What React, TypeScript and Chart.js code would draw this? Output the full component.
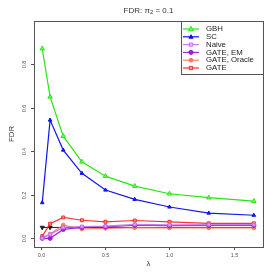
import React, { useEffect, useRef } from "react";
import { Chart, registerables } from "chart.js";

Chart.register(...registerables);

const lambdas = [0.012, 0.073, 0.175, 0.32, 0.503, 0.73, 1.0, 1.305, 1.655];
const gbh = [0.873, 0.651, 0.47, 0.352, 0.286, 0.24, 0.205, 0.187, 0.171];
const sc = [0.164, 0.544, 0.406, 0.299, 0.222, 0.179, 0.144, 0.116, 0.106];
const naive = [0.0, 0.018, 0.05, 0.054, 0.056, 0.064, 0.062, 0.063, 0.063];
const gateEM = [0.0, 0.0, 0.041, 0.05, 0.053, 0.06, 0.058, 0.059, 0.059];
const gateOracle = [0.002, 0.02, 0.061, 0.043, 0.046, 0.049, 0.048, 0.048, 0.048];
const gate = [0.01, 0.067, 0.096, 0.083, 0.076, 0.082, 0.076, 0.069, 0.069];
const nominal = [0.05, 0.05, 0.05, 0.05, 0.05, 0.05, 0.05, 0.05, 0.05];
const seriesNames = ["GBH", "SC", "Naive", "GATE, EM", "GATE, Oracle", "GATE"];
const xTicks = [0, 0.5, 1.0, 1.5];
const yTicks = [0, 0.2, 0.4, 0.6, 0.8];

const toPts = (ys: number[]) => ys.map((y, i) => ({ x: lambdas[i], y }));

export default function App() {
  const ref = useRef<HTMLCanvasElement>(null);
  useEffect(() => {
    document.body.style.margin = "0";
    const c = ref.current!;
    const styles = [
      { color: "rgba(40,230,20,1)", fill: "rgba(110,250,90,0.9)", ps: "triangle", r: 2.6, data: gbh },
      { color: "rgba(20,20,240,1)", fill: "rgba(20,20,240,1)", ps: "triangle", r: 2.1, data: sc },
      { color: "rgba(200,110,240,0.9)", fill: "rgba(230,180,250,0.8)", ps: "rect", r: 2.1, data: naive },
      { color: "rgba(150,20,220,0.9)", fill: "rgba(150,20,220,0.9)", ps: "circle", r: 2.1, data: gateEM },
      { color: "rgba(250,110,80,0.85)", fill: "rgba(250,110,80,0.85)", ps: "circle", r: 1.9, data: gateOracle },
      { color: "rgba(250,30,30,0.9)", fill: "rgba(255,150,150,0.8)", ps: "rect", r: 2.1, data: gate },
    ];
    const datasets: any[] = styles.map((s, i) => ({
      label: seriesNames[i],
      data: toPts(s.data),
      borderColor: s.color,
      backgroundColor: s.fill,
      pointBorderColor: s.color,
      pointBackgroundColor: s.fill,
      pointStyle: s.ps,
      pointRadius: s.r,
      pointBorderWidth: 1,
      borderWidth: 1.2,
      tension: 0,
    }));
    datasets.push({
      label: "nominal",
      data: toPts(nominal),
      borderColor: "#222",
      backgroundColor: "#222",
      pointStyle: "triangle",
      rotation: 180,
      pointRadius: nominal.map((_, i) => (i < 2 ? 2.4 : 0)),
      borderWidth: 1,
      tension: 0,
    });

    const deco = {
      id: "deco",
      afterDraw(chart: any) {
        const ctx = chart.ctx as CanvasRenderingContext2D;
        const a = chart.chartArea;
        const xs = chart.scales.x;
        const ys = chart.scales.y;
        ctx.save();
        ctx.strokeStyle = "#555";
        ctx.lineWidth = 1;
        ctx.strokeRect(Math.round(a.left) + 0.5, Math.round(a.top) + 0.5, Math.round(a.right - a.left), Math.round(a.bottom - a.top));
        ctx.fillStyle = "#555";
        ctx.font = "5.5px 'Liberation Sans', Arial, sans-serif";
        ctx.textAlign = "center";
        ctx.textBaseline = "middle";
        for (const t of xTicks) {
          const px = Math.round(xs.getPixelForValue(t)) + 0.5;
          ctx.beginPath();
          ctx.moveTo(px, a.bottom);
          ctx.lineTo(px, a.bottom + 3);
          ctx.stroke();
          ctx.fillText(t.toFixed(1), px, a.bottom + 8.5);
        }
        for (const t of yTicks) {
          const py = Math.round(ys.getPixelForValue(t)) + 0.5;
          ctx.beginPath();
          ctx.moveTo(a.left, py);
          ctx.lineTo(a.left - 3, py);
          ctx.stroke();
          ctx.save();
          ctx.translate(a.left - 9.5, py);
          ctx.rotate(-Math.PI / 2);
          ctx.fillText(t.toFixed(1), 0, 0);
          ctx.restore();
        }
        // axis titles
        ctx.fillStyle = "#333";
        ctx.font = "7.8px 'Liberation Sans', Arial, sans-serif";
        ctx.fillText("λ", (a.left + a.right) / 2, 264);
        ctx.save();
        ctx.translate(12, (a.top + a.bottom) / 2);
        ctx.rotate(-Math.PI / 2);
        ctx.fillText("FDR", 0, 0);
        ctx.restore();
        // title
        const f1 = "8px 'Liberation Sans', Arial, sans-serif";
        const f2 = "5.8px 'Liberation Sans', Arial, sans-serif";
        const p1 = "FDR: π";
        const p2 = "2";
        const p3 = " = 0.1";
        ctx.font = f1;
        const w1 = ctx.measureText(p1).width;
        const w3 = ctx.measureText(p3).width;
        ctx.font = f2;
        const w2 = ctx.measureText(p2).width;
        const x0 = (a.left + a.right) / 2 - (w1 + w2 + w3) / 2;
        ctx.textAlign = "left";
        ctx.font = f1;
        ctx.fillText(p1, x0, 10.5);
        ctx.font = f2;
        ctx.fillText(p2, x0 + w1, 12.5);
        ctx.font = f1;
        ctx.fillText(p3, x0 + w1 + w2, 10.5);
        // legend
        const lx = 181, ly = a.top, lw = a.right - 181, lh = 53;
        ctx.fillStyle = "#fff";
        ctx.fillRect(lx, ly, lw, lh);
        ctx.strokeStyle = "#555";
        ctx.strokeRect(lx + 0.5, Math.round(ly) + 0.5, lw, lh);
        ctx.font = "7.8px 'Liberation Sans', Arial, sans-serif";
        ctx.textBaseline = "middle";
        styles.forEach((s, i) => {
          const yy = ly + 8 + i * 7.8;
          ctx.strokeStyle = s.color;
          ctx.lineWidth = 1.2;
          ctx.beginPath();
          ctx.moveTo(183, yy);
          ctx.lineTo(199, yy);
          ctx.stroke();
          ctx.fillStyle = s.fill;
          ctx.strokeStyle = s.color;
          ctx.lineWidth = 1;
          const r = s.r;
          ctx.beginPath();
          if (s.ps === "triangle") {
            ctx.moveTo(191, yy - r);
            ctx.lineTo(191 + r, yy + r * 0.7);
            ctx.lineTo(191 - r, yy + r * 0.7);
            ctx.closePath();
          } else if (s.ps === "rect") {
            ctx.rect(191 - r * 0.8, yy - r * 0.8, r * 1.6, r * 1.6);
          } else {
            ctx.arc(191, yy, r, 0, Math.PI * 2);
          }
          ctx.fill();
          ctx.stroke();
          ctx.fillStyle = "#222";
          ctx.fillText(seriesNames[i], 206, yy);
        });
        ctx.restore();
      },
    };

    const chart = new Chart(c, {
      type: "line",
      data: { datasets },
      options: {
        animation: false,
        responsive: false,
        layout: { padding: { left: 34, top: 21, right: 10, bottom: 26 } },
        plugins: { legend: { display: false }, tooltip: { enabled: false } },
        scales: {
          x: { type: "linear", min: -0.052, max: 1.726, display: false },
          y: { type: "linear", min: -0.04, max: 1.0, display: false },
        },
      },
      plugins: [deco],
    });
    return () => chart.destroy();
  }, []);
  return (
    <div style={{ width: 273, height: 273, background: "#fff" }}>
      <canvas ref={ref} width={273} height={273} style={{ display: "block" }} />
    </div>
  );
}
